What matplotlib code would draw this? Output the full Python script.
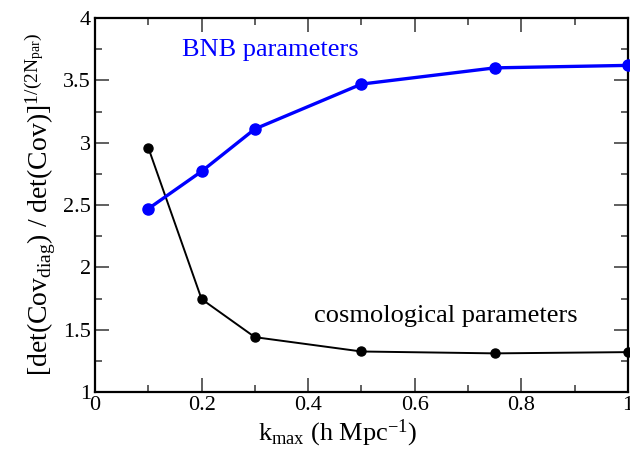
import matplotlib
matplotlib.use('Agg')
import matplotlib.pyplot as plt
from matplotlib.ticker import MultipleLocator

plt.rcParams['font.family'] = ['Liberation Serif', 'DejaVu Serif']
plt.rcParams['mathtext.fontset'] = 'custom'
plt.rcParams['mathtext.rm'] = 'Liberation Serif'
plt.rcParams['mathtext.it'] = 'Liberation Serif'

# data
kmax = [0.1, 0.2, 0.3, 0.5, 0.75, 1.0]
bnb = [2.47, 2.77, 3.11, 3.47, 3.60, 3.62]
cosmo = [2.96, 1.745, 1.44, 1.325, 1.31, 1.32]

fig = plt.figure(figsize=(6.3, 4.57), dpi=100)
ax = fig.add_axes([0.1508, 0.1422, 0.846, 0.8184])

ax.plot(kmax, cosmo, color='black', lw=1.4, marker='o', ms=6.5, clip_on=False, zorder=3)
ax.plot(kmax, bnb, color='blue', lw=2.4, marker='o', ms=8, clip_on=False, zorder=4)

ax.set_xlim(0, 1)
ax.set_ylim(1, 4)
ax.xaxis.set_minor_locator(MultipleLocator(0.1))
ax.yaxis.set_minor_locator(MultipleLocator(0.25))
ax.set_xticks([0, 0.2, 0.4, 0.6, 0.8, 1.0])
ax.set_xticklabels(['0', '0.2', '0.4', '0.6', '0.8', '1'])
ax.set_yticks([1, 1.5, 2, 2.5, 3, 3.5, 4])
ax.set_yticklabels(['1', '1.5', '2', '2.5', '3', '3.5', '4'])
ax.tick_params(which='both', direction='in', top=True, right=True, labelsize=16,
               width=1.2, color='#444444')
ax.tick_params(which='major', length=10, pad=3)
ax.tick_params(which='minor', length=5)
for s in ax.spines.values():
    s.set_linewidth(1.6)

ax.set_xlabel(r'$\mathregular{k_{max}}$ (h Mpc$\mathregular{^{-1}}$)', fontsize=19,
              labelpad=2, x=0.455)
ax.set_ylabel(r'[det(Cov$\mathregular{_{diag}}$) / det(Cov)]$\mathregular{^{1/(2N_{par})}}$',
              fontsize=20, labelpad=4)

ax.text(0.163, 3.74, 'BNB parameters', color='blue', fontsize=19, va='center')
ax.text(0.41, 1.61, 'cosmological parameters', color='black', fontsize=19, va='center')

fig.savefig('out.png', dpi=100)
